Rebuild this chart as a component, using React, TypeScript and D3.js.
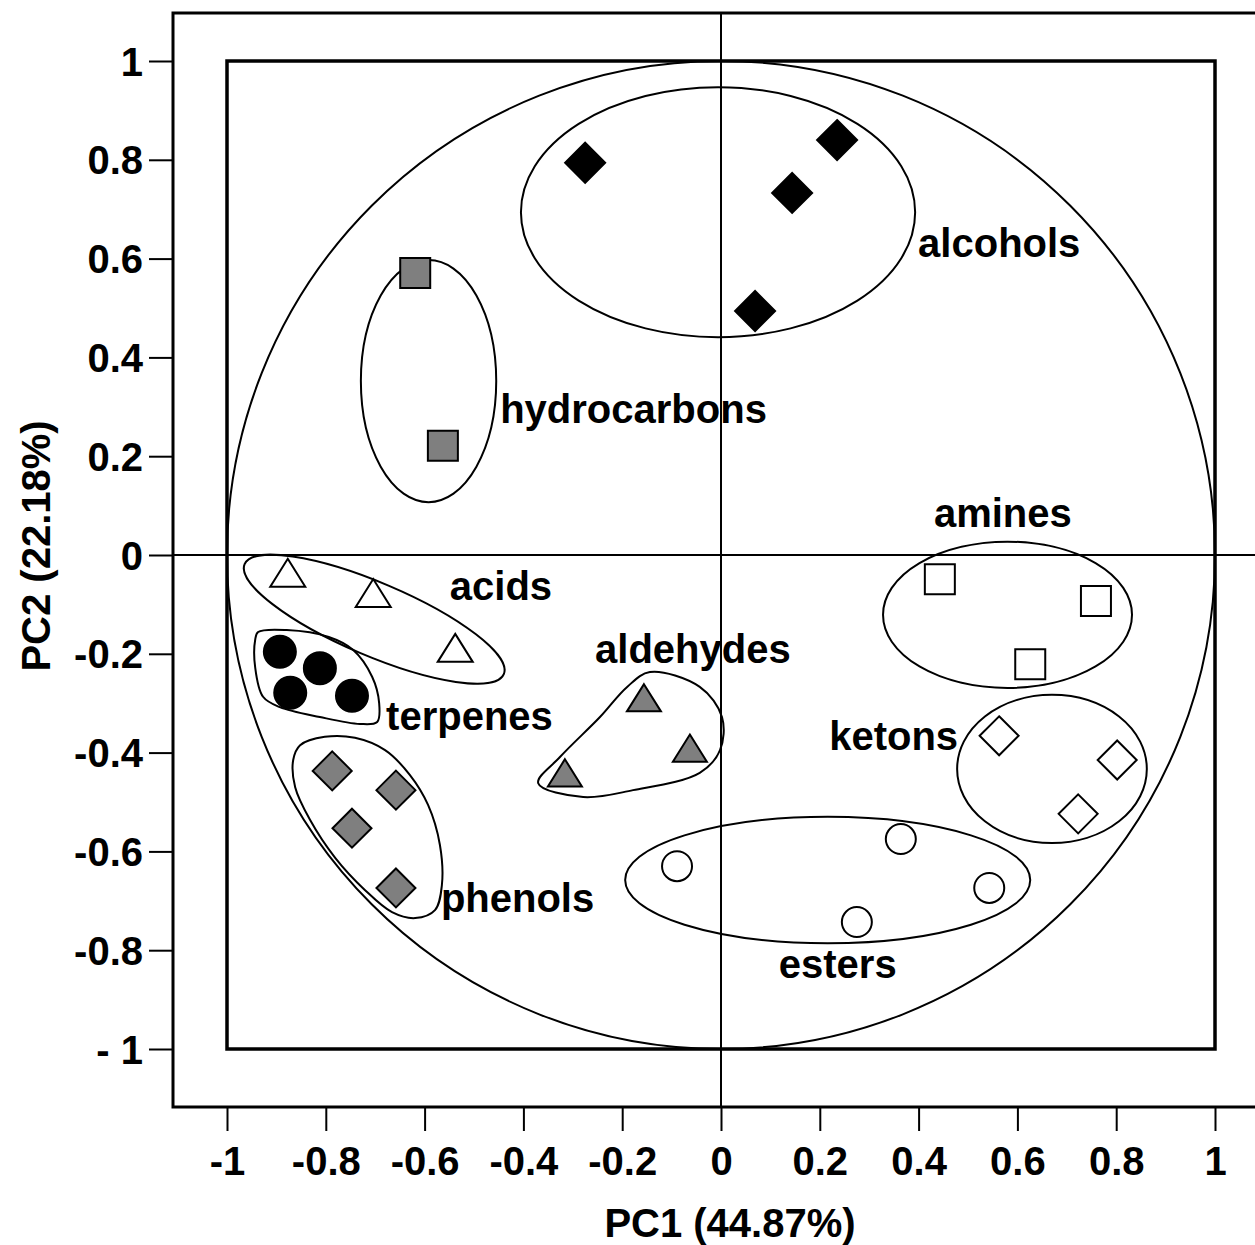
import * as d3 from 'd3'
import React, { useEffect, useRef } from 'react'

const width = 1255
const height = 1245

// axis ticks
const xTicks = [-1, -0.8, -0.6, -0.4, -0.2, 0, 0.2, 0.4, 0.6, 0.8, 1]
const xTickLabels = ['-1', '-0.8', '-0.6', '-0.4', '-0.2', '0', '0.2', '0.4', '0.6', '0.8', '1']
const yTicks = [-1, -0.8, -0.6, -0.4, -0.2, 0, 0.2, 0.4, 0.6, 0.8, 1]
const yTickLabels = ['- 1', '-0.8', '-0.6', '-0.4', '-0.2', '0', '0.2', '0.4', '0.6', '0.8', '1']

// loadings [PC1, PC2] per class
const alcohols = [[-0.275, 0.794], [0.235, 0.84], [0.144, 0.733], [0.069, 0.494]]
const hydrocarbons = [[-0.619, 0.571], [-0.563, 0.221]]
const acids = [[-0.877, -0.036], [-0.704, -0.077], [-0.538, -0.188]]
const terpenes = [[-0.893, -0.196], [-0.812, -0.229], [-0.872, -0.279], [-0.747, -0.285]]
const phenols = [[-0.787, -0.437], [-0.658, -0.476], [-0.747, -0.553], [-0.658, -0.674]]
const aldehydes = [[-0.156, -0.289], [-0.063, -0.391], [-0.316, -0.441]]
const amines = [[0.443, -0.049], [0.759, -0.093], [0.626, -0.221]]
const ketons = [[0.563, -0.366], [0.802, -0.415], [0.723, -0.524]]
const esters = [[-0.089, -0.63], [0.364, -0.575], [0.543, -0.674], [0.275, -0.743]]

// group ellipses: name, cx, cy, rx, ry, rotation (deg, screen)
const ellipseNames = ['alcohols', 'hydrocarbons', 'acids', 'amines', 'ketons', 'esters']
const ellipseCx = [-0.006, -0.592, -0.702, 0.58, 0.67, 0.216]
const ellipseCy = [0.694, 0.352, -0.13, -0.121, -0.433, -0.658]
const ellipseRx = [0.399, 0.137, 0.285, 0.252, 0.192, 0.41]
const ellipseRy = [0.253, 0.245, 0.074, 0.148, 0.15, 0.128]
const ellipseRot = [0, 0, 23, 0, 0, 0]

// free-hand group outlines
const terpenesOutline = [
  [-0.937, -0.156], [-0.879, -0.152], [-0.794, -0.166], [-0.745, -0.192], [-0.706, -0.247],
  [-0.692, -0.3], [-0.696, -0.338], [-0.731, -0.342], [-0.812, -0.328], [-0.893, -0.308],
  [-0.927, -0.287], [-0.943, -0.227], [-0.943, -0.172],
]
const phenolsOutline = [
  [-0.852, -0.385], [-0.802, -0.368], [-0.741, -0.37], [-0.68, -0.395], [-0.63, -0.445],
  [-0.593, -0.506], [-0.569, -0.587], [-0.565, -0.668], [-0.579, -0.719], [-0.619, -0.735],
  [-0.666, -0.723], [-0.721, -0.678], [-0.781, -0.613], [-0.832, -0.536], [-0.862, -0.47],
  [-0.866, -0.415],
]
const aldehydesOutline = [
  [-0.144, -0.237], [-0.043, -0.267], [0.002, -0.328], [-0.002, -0.395], [-0.043, -0.441],
  [-0.178, -0.476], [-0.279, -0.49], [-0.37, -0.462], [-0.326, -0.409], [-0.245, -0.328],
  [-0.19, -0.267],
]

// class labels: text, PC1, PC2 (left / baseline)
const labelTexts = ['alcohols', 'hydrocarbons', 'amines', 'acids', 'aldehydes', 'terpenes', 'ketons', 'phenols', 'esters']
const labelX = [0.399, -0.447, 0.431, -0.549, -0.255, -0.678, 0.219, -0.567, 0.117]
const labelY = [0.603, 0.267, 0.057, -0.091, -0.219, -0.354, -0.395, -0.723, -0.856]

const GRAY = '#7f7f7f'
const FONT = '"Liberation Sans", Arial, sans-serif'

// custom marker shapes (size = half width)
const diamond = {
  draw(ctx: any, r: number) {
    ctx.moveTo(0, -r); ctx.lineTo(r, 0); ctx.lineTo(0, r); ctx.lineTo(-r, 0); ctx.closePath()
  },
}
const square = {
  draw(ctx: any, r: number) {
    ctx.rect(-r, -r, 2 * r, 2 * r)
  },
}
const triangle = {
  draw(ctx: any, r: number) {
    const h = r * 0.8
    ctx.moveTo(0, -h); ctx.lineTo(r, h); ctx.lineTo(-r, h); ctx.closePath()
  },
}
const circle = {
  draw(ctx: any, r: number) {
    ctx.moveTo(r, 0); ctx.arc(0, 0, r, 0, 2 * Math.PI)
  },
}

const series = [
  { pts: alcohols, shape: diamond, size: 20, fill: '#000' },
  { pts: hydrocarbons, shape: square, size: 15, fill: GRAY },
  { pts: acids, shape: triangle, size: 17.5, fill: '#fff' },
  { pts: terpenes, shape: circle, size: 16, fill: '#000' },
  { pts: phenols, shape: diamond, size: 19.5, fill: GRAY },
  { pts: aldehydes, shape: triangle, size: 17, fill: GRAY },
  { pts: amines, shape: square, size: 15, fill: '#fff' },
  { pts: ketons, shape: diamond, size: 19.5, fill: '#fff' },
  { pts: esters, shape: circle, size: 15, fill: '#fff' },
]

const Biplot = () => {
  const ref = useRef<SVGSVGElement>(null)

  useEffect(() => {
    const svg = d3.select(ref.current)
    svg.selectAll('*').remove()

    const x = d3.scaleLinear().domain([-1, 1]).range([227, 1215])
    const y = d3.scaleLinear().domain([-1, 1]).range([1049, 61])

    const frameL = 173
    const frameT = 13
    const frameB = 1107

    // outer frame (right side falls off the picture)
    svg.append('path')
      .attr('d', `M${width},${frameT}H${frameL}V${frameB}H${width}`)
      .attr('fill', 'none')
      .attr('stroke', '#000')
      .attr('stroke-width', 3)

    // axes
    const yAxis = d3.axisLeft(y).tickValues(yTicks).tickSize(24).tickPadding(6)
      .tickFormat((d, i) => yTickLabels[i])
    const gy = svg.append('g').attr('transform', `translate(${frameL},0)`).call(yAxis)
    const xAxis = d3.axisBottom(x).tickValues(xTicks).tickSize(24).tickPadding(16)
      .tickFormat((d, i) => xTickLabels[i])
    const gx = svg.append('g').attr('transform', `translate(0,${frameB})`).call(xAxis)
    for (const g of [gx, gy]) {
      g.select('.domain').remove()
      g.selectAll('line').attr('stroke', '#000').attr('stroke-width', 2)
      g.selectAll('text')
        .attr('fill', '#000')
        .style('font-family', FONT)
        .style('font-size', '40px')
        .style('font-weight', 'bold')
    }
    gy.selectAll('text').attr('dy', '0.35em')
    gx.selectAll('text').attr('dy', '0.71em')

    // inner unit square
    svg.append('rect')
      .attr('x', x(-1))
      .attr('y', y(1))
      .attr('width', x(1) - x(-1))
      .attr('height', y(-1) - y(1))
      .attr('fill', 'none')
      .attr('stroke', '#000')
      .attr('stroke-width', 3.5)

    // correlation circle
    svg.append('ellipse')
      .attr('cx', x(0))
      .attr('cy', y(0))
      .attr('rx', x(1) - x(0))
      .attr('ry', y(-1) - y(0))
      .attr('fill', 'none')
      .attr('stroke', '#000')
      .attr('stroke-width', 2)

    // zero lines
    svg.append('line')
      .attr('x1', frameL).attr('x2', width)
      .attr('y1', y(0)).attr('y2', y(0))
      .attr('stroke', '#000').attr('stroke-width', 2)
    svg.append('line')
      .attr('x1', x(0)).attr('x2', x(0))
      .attr('y1', frameT).attr('y2', frameB)
      .attr('stroke', '#000').attr('stroke-width', 2)

    // group ellipses
    svg.append('g')
      .selectAll('ellipse')
      .data(ellipseNames)
      .join('ellipse')
      .attr('cx', 0)
      .attr('cy', 0)
      .attr('rx', (d, i) => x(ellipseRx[i]) - x(0))
      .attr('ry', (d, i) => y(0) - y(ellipseRy[i]))
      .attr('transform', (d, i) => `translate(${x(ellipseCx[i])},${y(ellipseCy[i])}) rotate(${ellipseRot[i]})`)
      .attr('fill', 'none')
      .attr('stroke', '#000')
      .attr('stroke-width', 2)

    // free-hand outlines
    const outline = d3.line<number[]>()
      .x((d) => x(d[0]))
      .y((d) => y(d[1]))
      .curve(d3.curveCatmullRomClosed.alpha(0.5))
    svg.append('g')
      .selectAll('path')
      .data([terpenesOutline, phenolsOutline, aldehydesOutline])
      .join('path')
      .attr('d', (d) => outline(d))
      .attr('fill', 'none')
      .attr('stroke', '#000')
      .attr('stroke-width', 2)

    // markers
    for (const s of series) {
      const sym = d3.symbol().type(s.shape as any).size(s.size)
      svg.append('g')
        .selectAll('path')
        .data(s.pts)
        .join('path')
        .attr('transform', (d) => `translate(${x(d[0])},${y(d[1])})`)
        .attr('d', sym() as string)
        .attr('fill', s.fill)
        .attr('stroke', '#000')
        .attr('stroke-width', 2)
    }

    // class labels
    svg.append('g')
      .selectAll('text')
      .data(labelTexts)
      .join('text')
      .attr('x', (d, i) => x(labelX[i]))
      .attr('y', (d, i) => y(labelY[i]))
      .attr('fill', '#000')
      .style('font-family', FONT)
      .style('font-size', '40px')
      .style('font-weight', 'bold')
      .text((d) => d)

    // axis titles
    svg.append('text')
      .attr('x', 730)
      .attr('y', 1237)
      .attr('text-anchor', 'middle')
      .style('font-family', FONT)
      .style('font-size', '40px')
      .style('font-weight', 'bold')
      .text('PC1 (44.87%)')
    svg.append('text')
      .attr('transform', 'translate(50,546) rotate(-90)')
      .attr('text-anchor', 'middle')
      .style('font-family', FONT)
      .style('font-size', '40px')
      .style('font-weight', 'bold')
      .text('PC2 (22.18%)')
  }, [])

  return (
    <svg
      ref={ref}
      width={width}
      height={height}
      style={{ position: 'absolute', left: 0, top: 0, background: '#fff' }}
    />
  )
}

export default function App() {
  return <Biplot />
}
